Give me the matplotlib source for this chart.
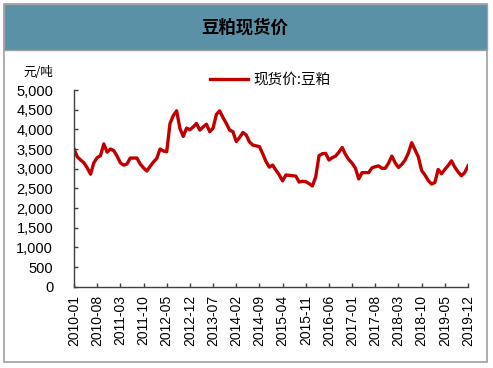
import matplotlib
matplotlib.use("Agg")
import matplotlib.pyplot as plt
from matplotlib.patches import Rectangle

# ---- data ----
start_year, start_month = 2010, 1
values = [
    3500, 3300, 3220, 3150, 3020, 2860, 3150, 3280, 3330, 3630,
    3420, 3500, 3460, 3320, 3150, 3090, 3120, 3270, 3270, 3270,
    3120, 3020, 2940, 3060, 3170, 3260, 3500, 3450, 3430, 4150,
    4350, 4470, 4020, 3820, 4030, 3990, 4060, 4150, 3980, 4060,
    4130, 3940, 4030, 4380, 4470, 4300, 4150, 3980, 3940, 3690,
    3790, 3920, 3860, 3680, 3600, 3580, 3560, 3380, 3180, 3040,
    3090, 2960, 2840, 2690, 2840, 2830, 2820, 2810, 2660, 2680,
    2670, 2620, 2560, 2790, 3330, 3380, 3390, 3220, 3280, 3320,
    3420, 3540, 3360, 3230, 3140, 3010, 2740, 2900, 2900, 2900,
    3020, 3050, 3070, 3010, 3010, 3140, 3320, 3150, 3030, 3110,
    3220, 3400, 3660, 3480, 3300, 2950, 2840, 2700, 2610, 2650,
    2980, 2870, 2980, 3080, 3200, 3040, 2920, 2820, 2900, 3070,
]
months = []
for i in range(len(values)):
    m = start_month - 1 + i
    months.append(f"{start_year + m // 12}-{m % 12 + 1:02d}")
yticks = [0, 500, 1000, 1500, 2000, 2500, 3000, 3500, 4000, 4500, 5000]
title = "豆粕现货价"
series_name = "现货价:豆粕"
unit = "元/吨"

W, H = 493, 368
fig = plt.figure(figsize=(W / 100, H / 100), dpi=100)
fig.patch.set_facecolor("white")

def fx(px):
    return px / W

def fy(py):
    return 1 - py / H

# frame and title band
fig.patches.append(Rectangle((fx(4), fy(362)), fx(487) - fx(4), fy(4) - fy(362),
                             transform=fig.transFigure, facecolor="none",
                             edgecolor="#A0A0A0", linewidth=1.2, zorder=0))
fig.patches.append(Rectangle((fx(4), fy(50)), fx(487) - fx(4), fy(4) - fy(50),
                             transform=fig.transFigure, facecolor="#5B91A6",
                             edgecolor="#A0A0A0", linewidth=1.0, zorder=1))
fig.text(fx(245), fy(28), title, ha="center", va="center", fontsize=12.5,
         fontweight="bold", family=["Noto Sans CJK SC", "DejaVu Sans"], color="black",
         zorder=3)

ax = fig.add_axes([fx(74), fy(286.7), fx(468) - fx(74), fy(90) - fy(286.7)])
ax.set_zorder(5)
ax.set_facecolor("none")
x = list(range(len(values)))
line, = ax.plot(x, values, color="#C00000", linewidth=2.4, solid_joinstyle="round",
                label=series_name)
ax.set_xlim(0, len(values) - 1)
ax.set_ylim(0, 5000)
ax.set_yticks(yticks)
ax.set_yticklabels([f"{v:,}" for v in yticks])
tick_idx = list(range(0, len(values), 7))
ax.set_xticks(tick_idx)
ax.set_xticklabels([months[i] for i in tick_idx], rotation=90)
for s in ["top", "right"]:
    ax.spines[s].set_visible(False)
for s in ["left", "bottom"]:
    ax.spines[s].set_color("#404040")
    ax.spines[s].set_linewidth(1.0)
ax.tick_params(axis="both", direction="in", length=3, width=1, color="#404040",
               labelcolor="black")
ax.tick_params(axis="y", pad=15, labelsize=10.5)
ax.tick_params(axis="x", pad=6, labelsize=10)
for lab in ax.get_xticklabels() + ax.get_yticklabels():
    lab.set_family(["Liberation Sans", "DejaVu Sans"])

fig.text(fx(38), fy(72), unit, ha="center", va="center", fontsize=9,
         family=["Noto Sans CJK SC", "DejaVu Sans"], zorder=3)

leg = fig.legend(handles=[line], loc="center", bbox_to_anchor=(fx(270), fy(80)),
                 frameon=False, prop={"family": ["Noto Sans CJK SC", "DejaVu Sans"], "size": 10.5},
                 handlelength=2.6, handletextpad=0.35)
leg.set_zorder(6)

fig.savefig("out.png", dpi=100)
